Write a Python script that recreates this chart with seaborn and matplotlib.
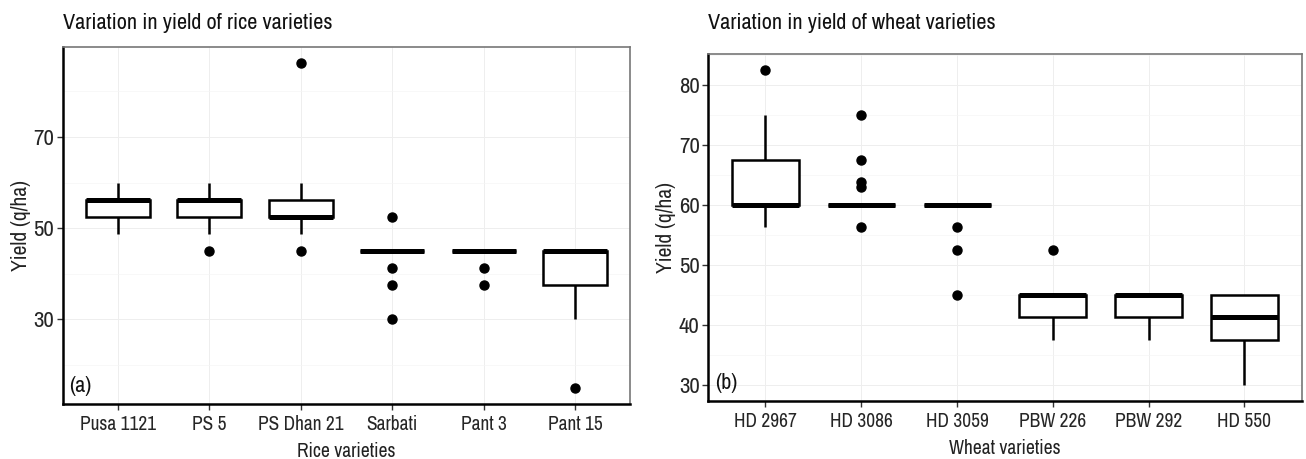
import matplotlib
matplotlib.use('agg')

import pandas as pd
import matplotlib.pyplot as plt
import matplotlib.ticker as mticker
from matplotlib import font_manager as fm
import seaborn as sns

# rice yields (q/ha) per variety
rice_order = ["Pusa 1121", "PS 5", "PS Dhan 21", "Sarbati", "Pant 3", "Pant 15"]
pusa_1121 = [48.75, 52.5, 52.5, 56.25, 56.25, 56.25, 56.25, 60]
ps_5 = [45, 48.75, 52.5, 52.5, 56.25, 56.25, 56.25, 56.25, 60]
ps_dhan_21 = [45, 48.75, 52.5, 52.5, 52.5, 52.5, 56.25, 56.25, 60, 86.25]
sarbati = [30, 37.5, 41.25, 45, 45, 45, 45, 45, 45, 45, 45, 45, 52.5]
pant_3 = [37.5, 41.25, 45, 45, 45, 45, 45, 45, 45]
pant_15 = [15, 30, 37.5, 37.5, 45, 45, 45, 45, 45]

# wheat yields (q/ha) per variety
wheat_order = ["HD 2967", "HD 3086", "HD 3059", "PBW 226", "PBW 292", "HD 550"]
hd_2967 = [56.25, 60, 60, 60, 60, 67.5, 67.5, 75, 82.5]
hd_3086 = [56.25] + [60] * 12 + [63, 63.75, 67.5, 75]
hd_3059 = [45, 52.5, 56.25] + [60] * 10
pbw_226 = [37.5, 41.25, 41.25, 45, 45, 45, 45, 52.5]
pbw_292 = [37.5, 41.25, 41.25, 45, 45, 45, 45]
hd_550 = [30, 37.5, 37.5, 41.25, 41.25, 45, 45, 45]

rice_vals = [pusa_1121, ps_5, ps_dhan_21, sarbati, pant_3, pant_15]
wheat_vals = [hd_2967, hd_3086, hd_3059, pbw_226, pbw_292, hd_550]


def to_long(order, vals):
    rows = []
    for name, v in zip(order, vals):
        for y in v:
            rows.append((name, y))
    return pd.DataFrame(rows, columns=["variety", "yield"])


rice = to_long(rice_order, rice_vals)
wheat = to_long(wheat_order, wheat_vals)

# use a narrow face when one is installed, else plain Liberation Sans
names = sorted({f.name for f in fm.fontManager.ttflist})
narrow = [n for n in names if "Narrow" in n or "Condensed" in n]
base = narrow[0] if narrow else "Liberation Sans"
scale = 1.0 if narrow else 0.85

sns.set_style("white")
plt.rcParams['font.family'] = [base, 'Liberation Sans', 'DejaVu Sans']

fig = plt.figure(figsize=(13.06, 4.59), dpi=100)
ax1 = fig.add_axes([0.048, 0.1198, 0.4344, 0.7784])
ax2 = fig.add_axes([0.5421, 0.127, 0.4548, 0.755])


def draw(ax, df, order, title, xlabel, tag, ylim, majors, minors):
    sns.boxplot(data=df, x="variety", y="yield", order=order, ax=ax,
                width=0.7, color="white", linecolor="black", saturation=1,
                linewidth=1.8, whis=1.5, showcaps=False, fliersize=6.5,
                medianprops=dict(linewidth=3.6, color="black"),
                flierprops=dict(marker="o", markerfacecolor="black",
                                markeredgecolor="black"))
    ax.set_xlim(-0.6, 5.6)
    ax.set_ylim(*ylim)
    ax.yaxis.set_major_locator(mticker.FixedLocator(majors))
    ax.yaxis.set_minor_locator(mticker.FixedLocator(minors))
    ax.grid(True, which="major", color="#eeeeee", linewidth=0.7)
    ax.grid(True, which="minor", axis="y", color="#f5f5f5", linewidth=0.5)
    ax.set_axisbelow(True)
    for s in ["left", "bottom"]:
        ax.spines[s].set_color("black")
        ax.spines[s].set_linewidth(1.8)
    for s in ["top", "right"]:
        ax.spines[s].set_color("#777777")
        ax.spines[s].set_linewidth(1.2)
    ax.tick_params(axis="y", which="major", length=4, width=1, color="#333333",
                   labelsize=16.5 * scale, pad=2, left=True)
    ax.tick_params(axis="y", which="minor", length=0)
    ax.tick_params(axis="x", length=4, width=1, color="#333333",
                   labelsize=14 * scale, pad=4, bottom=True)
    ax.set_xlabel(xlabel, fontsize=14 * scale, color="#222222", labelpad=6)
    ax.set_ylabel("Yield (q/ha)", fontsize=15.5 * scale, color="#222222", labelpad=2)
    ax.text(0.012, 0.022, tag, transform=ax.transAxes, fontsize=16 * scale,
            ha="left", va="bottom", color="#111111")
    x0 = ax.get_position().x0
    fig.text(x0, 1 - 23 / 459, title, ha="left", va="center",
             fontsize=16 * scale, color="#111111")


draw(ax1, rice, rice_order, "Variation in yield of rice varieties",
     "Rice varieties", "(a)", (11.44, 89.81), [30, 50, 70], [20, 40, 60, 80])
draw(ax2, wheat, wheat_order, "Variation in yield of wheat varieties",
     "Wheat varieties", "(b)", (27.375, 85.125),
     [30, 40, 50, 60, 70, 80], [35, 45, 55, 65, 75, 85])

fig.savefig("out.png", dpi=100)
